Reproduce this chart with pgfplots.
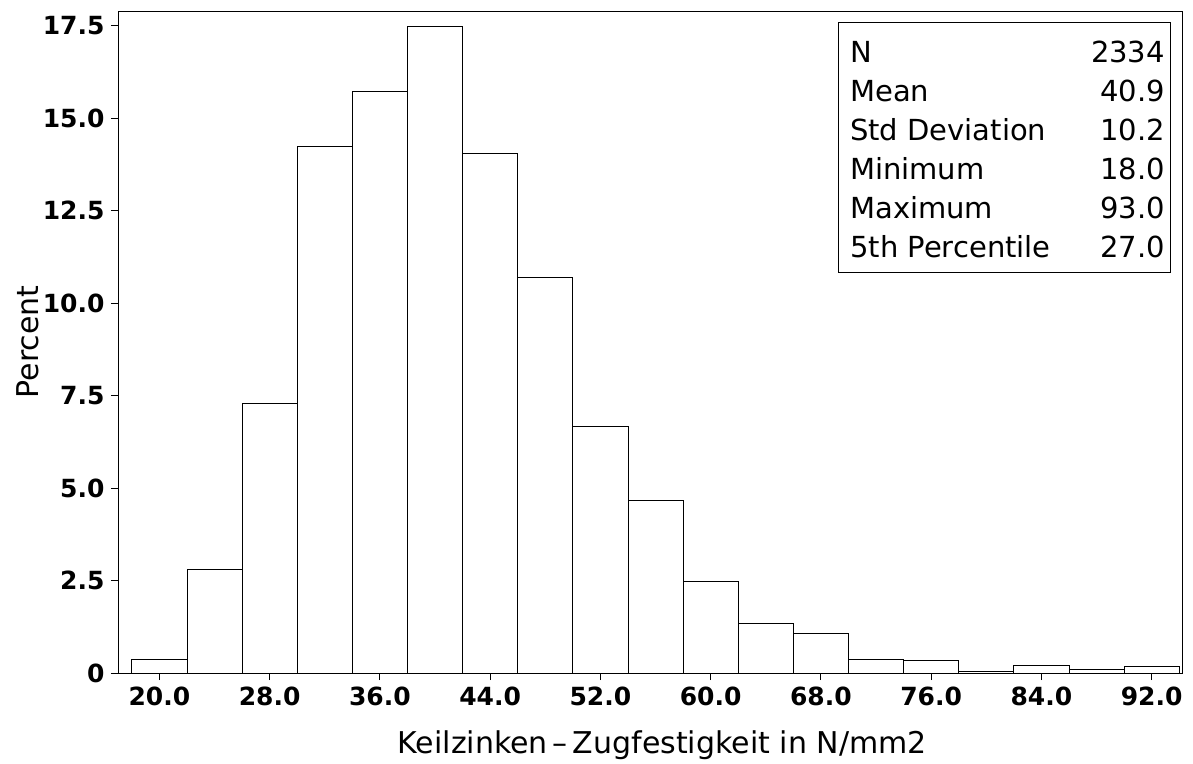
\documentclass[border=0pt]{standalone}
\usepackage{pgfplots}
\pgfplotsset{compat=1.18}
\usepackage{fontspec}
\setmainfont{DejaVu Sans}
\begin{document}
\begin{tikzpicture}
\useasboundingbox (-118pt,-90pt) rectangle (1075pt,673pt);
\begin{axis}[
  scale only axis,
  width=1064pt, height=662pt,
  xmin=17, xmax=94.2,
  ymin=0, ymax=17.9,
  axis line style={line width=0.8pt},
  tick style={black, line width=0.8pt},
  tick align=outside,
  major tick length=7pt,
  xtick={20,28,36,44,52,60,68,76,84,92},
  xticklabels={20.0,28.0,36.0,44.0,52.0,60.0,68.0,76.0,84.0,92.0},
  ytick={0,2.5,5,7.5,10,12.5,15,17.5},
  yticklabels={0,2.5,5.0,7.5,10.0,12.5,15.0,17.5},
  xtick pos=bottom, ytick pos=left,
  ticklabel style={font=\fontsize{25}{29}\selectfont\bfseries},
  xticklabel style={yshift=-3pt},
  yticklabel style={xshift=-3pt},
  xlabel={Keilzinken\,–\,Zugfestigkeit in N/mm2},
  ylabel={Percent},
  label style={font=\fontsize{30}{35}\selectfont},
  xlabel style={at={(axis description cs:0.5115,-0.109)}, anchor=center},
  ylabel style={at={(axis description cs:-0.085,0.5)}, anchor=center, rotate=0},
]
\addplot[ybar interval, fill=white, draw=black, line width=0.8pt] coordinates {
(18,0.38) (22,2.81) (26,7.28) (30,14.25) (34,15.72) (38,17.47) (42,14.05)
(46,10.69) (50,6.68) (54,4.68) (58,2.49) (62,1.35) (66,1.08) (70,0.38)
(74,0.35) (78,0.05) (82,0.2) (86,0.09) (90,0.17) (94,0)
};
\end{axis}
\draw[line width=0.8pt] (720pt,651pt) rectangle (1052pt,401pt);
\begin{scope}[every node/.style={inner sep=0pt, font=\fontsize{29}{34}\selectfont}]
\node[anchor=base west] at (732pt,610pt) {N};
\node[anchor=base east] at (1047pt,610pt) {2334};
\node[anchor=base west] at (732pt,571pt) {Mean};
\node[anchor=base east] at (1047pt,571pt) {40.9};
\node[anchor=base west] at (732pt,532pt) {Std Deviation};
\node[anchor=base east] at (1047pt,532pt) {10.2};
\node[anchor=base west] at (732pt,493pt) {Minimum};
\node[anchor=base east] at (1047pt,493pt) {18.0};
\node[anchor=base west] at (732pt,454pt) {Maximum};
\node[anchor=base east] at (1047pt,454pt) {93.0};
\node[anchor=base west] at (732pt,415pt) {5th Percentile};
\node[anchor=base east] at (1047pt,415pt) {27.0};
\end{scope}
\end{tikzpicture}
\end{document}
